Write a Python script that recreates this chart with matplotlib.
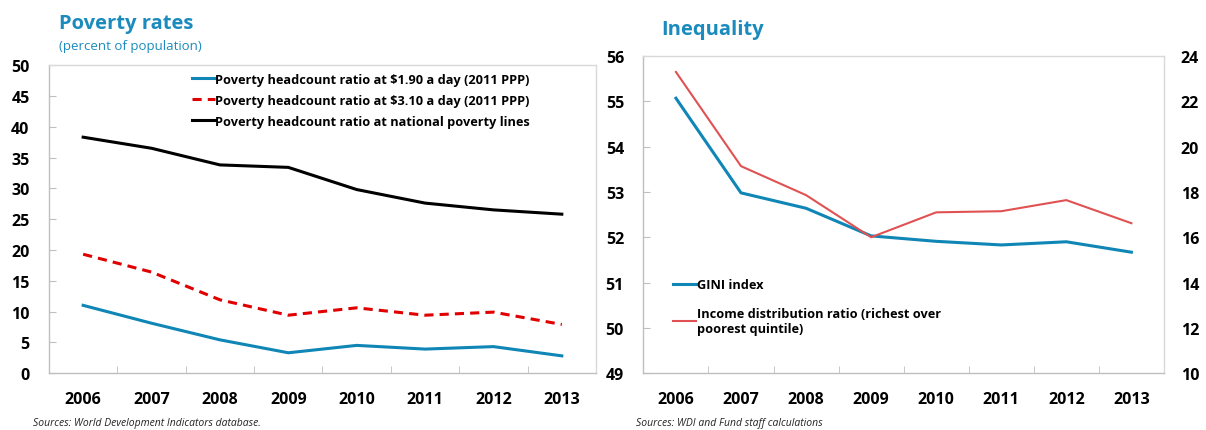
import matplotlib
matplotlib.use("Agg")
import matplotlib.pyplot as plt
import numpy as np

plt.rcParams["font.family"] = ["Open Sans", "DejaVu Sans"]
plt.rcParams["font.weight"] = "bold"

years = ["2006", "2007", "2008", "2009", "2010", "2011", "2012", "2013"]

# Poverty rates (percent of population)
pov_190 = [11.0, 8.1, 5.4, 3.3, 4.5, 3.9, 4.3, 2.8]
pov_310 = [19.3, 16.4, 11.9, 9.4, 10.6, 9.4, 9.9, 7.9]
pov_national = [38.3, 36.5, 33.8, 33.4, 29.8, 27.6, 26.5, 25.8]

# Inequality
gini = [55.07, 52.98, 52.64, 52.03, 51.91, 51.83, 51.90, 51.67]
income_ratio = [23.3, 19.14, 17.86, 16.0, 17.1, 17.15, 17.64, 16.62]

BLUE = "#0f86b6"
TITLE_BLUE = "#1b8bbd"
SPINE = "#bfbfbf"

fig = plt.figure(figsize=(12.06, 4.31), dpi=100)
x = np.arange(len(years))


def style_axes(ax):
    for side in ["top", "right"]:
        ax.spines[side].set_color("#d9d9d9")
    for side in ["left", "bottom"]:
        ax.spines[side].set_color(SPINE)
    for s in ax.spines.values():
        s.set_linewidth(1.0)
    ax.set_xlim(-0.5, len(years) - 0.5)
    ax.set_xticks(x)
    ax.set_xticklabels(years, fontsize=11.5, fontweight="bold")
    ax.set_xticks(np.arange(len(years) + 1) - 0.5, minor=True)
    ax.tick_params(axis="x", which="major", length=0, pad=13)
    ax.tick_params(axis="x", which="minor", direction="in", length=5, color=SPINE)
    ax.tick_params(axis="y", direction="in", length=5, color=SPINE,
                   labelsize=11.5, pad=14)


# Left panel: poverty rates
ax1 = fig.add_axes([0.0406, 0.132, 0.4536, 0.7146])
ax1.plot(x, pov_190, color=BLUE, lw=2.2,
         label="Poverty headcount ratio at $1.90 a day (2011 PPP)")
ax1.plot(x, pov_310, color="#e00000", lw=2.2, ls=(0, (3, 2)),
         label="Poverty headcount ratio at $3.10 a day (2011 PPP)")
ax1.plot(x, pov_national, color="black", lw=2.2,
         label="Poverty headcount ratio at national poverty lines")
ax1.set_ylim(0, 50)
ax1.set_yticks(range(0, 51, 5))
style_axes(ax1)
ax1.legend(loc="upper left", bbox_to_anchor=(0.24, 1.012), frameon=False,
           prop={"size": 9.2, "weight": "bold"}, handlelength=1.8,
           handletextpad=0.05, labelspacing=0.62)

fig.text(0.049, 0.945, "Poverty rates", color=TITLE_BLUE, fontsize=14.5,
         fontweight="bold", va="center")
fig.text(0.049, 0.893, "(percent of population)", color=TITLE_BLUE, fontsize=9.5,
         fontweight="normal", va="center")
fig.text(0.027, 0.018, "Sources: World Development Indicators database.",
         fontsize=7.5, style="italic", fontweight="normal", color="#222222",
         va="center")

# Right panel: inequality
ax2 = fig.add_axes([0.5335, 0.132, 0.4316, 0.7355])
ax2.plot(x, gini, color=BLUE, lw=2.2, label="GINI index")
ax2.set_ylim(49, 56)
ax2.set_yticks(range(49, 57))
style_axes(ax2)
ax3 = ax2.twinx()
ax3.plot(x, income_ratio, color="#e05252", lw=1.5,
         label="Income distribution ratio (richest over\npoorest quintile)")
ax3.set_ylim(10, 24)
ax3.set_yticks(range(10, 25, 2))
ax3.tick_params(axis="y", length=0, labelsize=11.5, pad=12)
for s in ax3.spines.values():
    s.set_visible(False)

h1, l1 = ax2.get_legend_handles_labels()
h2, l2 = ax3.get_legend_handles_labels()
ax3.legend(h1 + h2, l1 + l2, loc="upper left", bbox_to_anchor=(0.035, 0.335),
           frameon=False, prop={"size": 9.2, "weight": "bold"}, handlelength=1.8,
           handletextpad=0.05, labelspacing=1.2)

fig.text(0.548, 0.93, "Inequality", color=TITLE_BLUE, fontsize=14.5,
         fontweight="bold", va="center")
fig.text(0.527, 0.018, "Sources: WDI and Fund staff calculations",
         fontsize=7.5, style="italic", fontweight="normal", color="#222222",
         va="center")

fig.savefig("out.png", dpi=100)
